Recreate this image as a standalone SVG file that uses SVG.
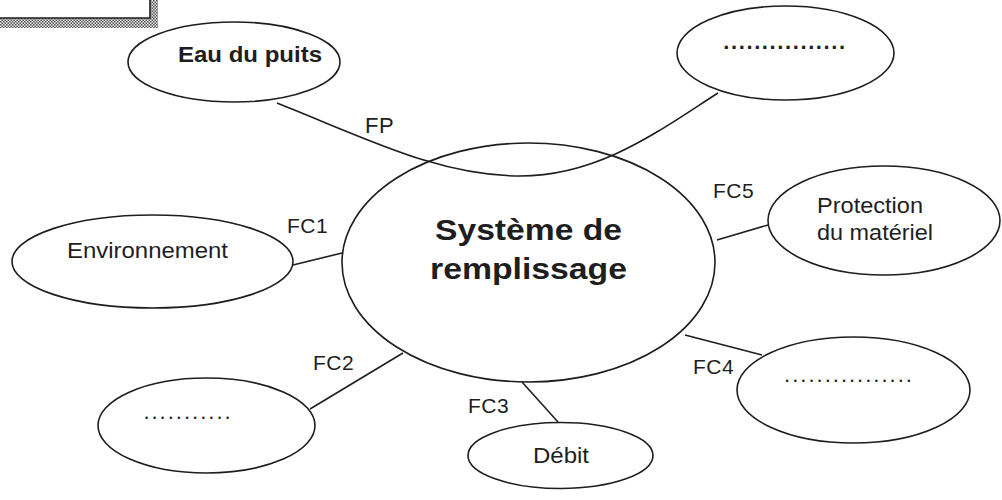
<svg xmlns="http://www.w3.org/2000/svg" width="1002" height="500" viewBox="0 0 1002 500">
<defs>
<pattern id="hatch" width="3" height="3" patternUnits="userSpaceOnUse">
<rect width="3" height="3" fill="#e8e8e8"/>
<rect width="1.5" height="1.5" fill="#555"/>
<rect x="1.5" y="1.5" width="1.5" height="1.5" fill="#555"/>
</pattern>
</defs>
<style>
.n{fill:none;stroke:#1e1e1e;stroke-width:1.6}
.c{fill:none;stroke:#1e1e1e;stroke-width:1.6}
.t{font-family:"Liberation Sans",Arial,sans-serif;fill:#1e1e1e;text-anchor:middle}
.s{font-family:"Liberation Sans",Arial,sans-serif;fill:#1e1e1e}
.lb{font-family:"Liberation Sans",Arial,sans-serif;fill:#1e1e1e;font-size:21px;letter-spacing:0.5px}
</style>
<rect width="1002" height="500" fill="#ffffff"/>
<g id="frame">
<rect x="0" y="18" width="158" height="10" fill="url(#hatch)"/>
<rect x="150" y="0" width="8" height="28" fill="url(#hatch)"/>
<path d="M0,18 H150 V0" fill="none" stroke="#1e1e1e" stroke-width="1.6"/>
</g>
<g id="connectors">
<path class="c" d="M277,103 C370,140 440,176 520,176 C600,176 660,130 718,93"/>
<path class="c" d="M293,265 L342,253"/>
<path class="c" d="M310,409 L403,353"/>
<path class="c" d="M522,382 L558,422"/>
<path class="c" d="M685,335 L762,355"/>
<path class="c" d="M717,240 L768,225"/>
<text class="lb" x="365" y="133" style="font-size:22px">FP</text>
<text class="lb" x="287" y="233">FC1</text>
<text class="lb" x="313" y="370">FC2</text>
<text class="lb" x="468" y="413">FC3</text>
<text class="lb" x="693" y="374">FC4</text>
<text class="lb" x="713" y="198">FC5</text>
</g>
<g id="systeme">
<ellipse class="n" cx="528.5" cy="262.5" rx="186.5" ry="119.5"/>
<text class="s" x="435" y="240" font-size="29" font-weight="bold" textLength="187" lengthAdjust="spacingAndGlyphs">Système de</text>
<text class="s" x="430" y="279" font-size="29" font-weight="bold" textLength="197" lengthAdjust="spacingAndGlyphs">remplissage</text>
</g>
<g id="eau">
<ellipse class="n" cx="234" cy="62" rx="106" ry="40"/>
<text class="s" x="178" y="62" font-size="22" font-weight="bold" textLength="144" lengthAdjust="spacingAndGlyphs">Eau du puits</text>
</g>
<g id="topright">
<ellipse class="n" cx="785.5" cy="53" rx="108.5" ry="47"/>
<text class="t" x="785" y="49" font-size="22" font-weight="bold" letter-spacing="1.6">................</text>
</g>
<g id="environnement">
<ellipse class="n" cx="152.5" cy="261.5" rx="140.5" ry="46.5"/>
<text class="s" x="67" y="258" font-size="22" textLength="161" lengthAdjust="spacingAndGlyphs">Environnement</text>
</g>
<g id="fc2node">
<ellipse class="n" cx="206.5" cy="425.5" rx="108.5" ry="47.5"/>
<text class="t" x="188" y="419" font-size="22" letter-spacing="2">...........</text>
</g>
<g id="debit">
<ellipse class="n" cx="560.5" cy="455.5" rx="92.5" ry="33"/>
<text class="s" x="533" y="463" font-size="22" textLength="56" lengthAdjust="spacingAndGlyphs">Débit</text>
</g>
<g id="fc4node">
<ellipse class="n" cx="853.5" cy="390" rx="116.5" ry="53"/>
<text class="t" x="849" y="382" font-size="22" letter-spacing="2">................</text>
</g>
<g id="protection">
<ellipse class="n" cx="884" cy="220.5" rx="116" ry="54.5"/>
<text class="s" x="817" y="213" font-size="22" textLength="106" lengthAdjust="spacingAndGlyphs">Protection</text>
<text class="s" x="817" y="240" font-size="22" textLength="116" lengthAdjust="spacingAndGlyphs">du matériel</text>
</g>
</svg>
